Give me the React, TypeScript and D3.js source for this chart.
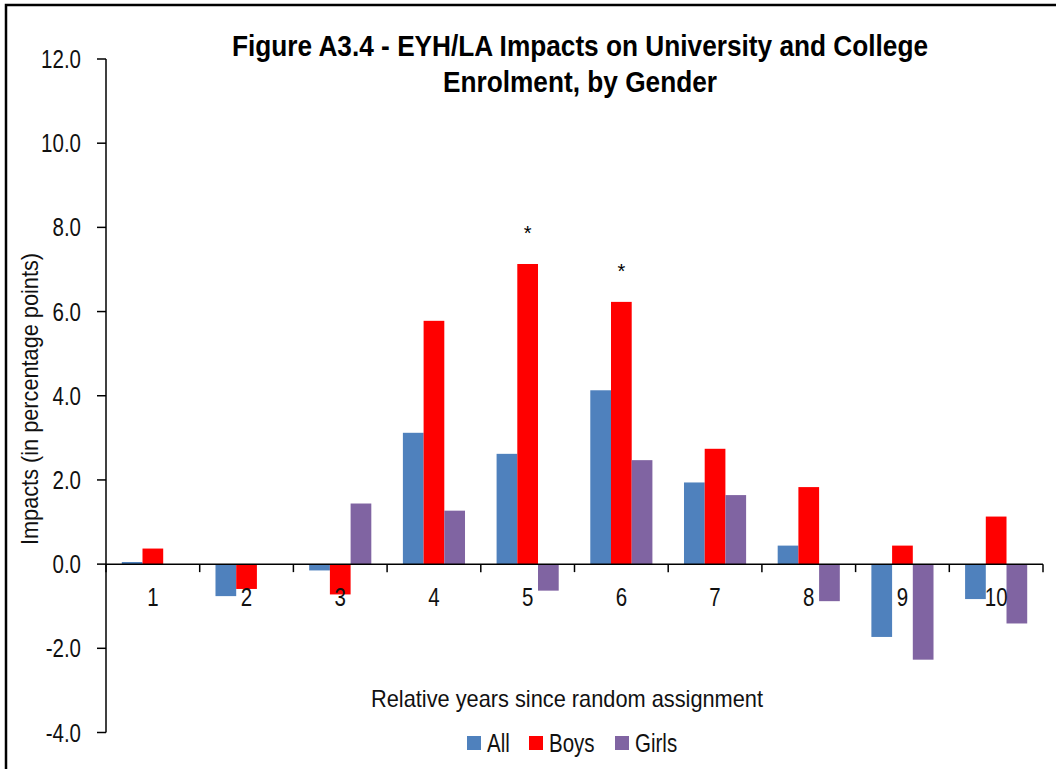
import React, { useEffect, useRef } from "react";
import * as d3 from "d3";

// Relative years since random assignment
const years = ["1", "2", "3", "4", "5", "6", "7", "8", "9", "10"];
const seriesNames = ["All", "Boys", "Girls"];
const allValues = [0.05, -0.76, -0.15, 3.12, 2.62, 4.13, 1.94, 0.44, -1.73, -0.83];
const boysValues = [0.37, -0.59, -0.72, 5.78, 7.13, 6.23, 2.74, 1.83, 0.44, 1.13];
const girlsValues = [0, 0, 1.44, 1.27, -0.63, 2.47, 1.64, -0.88, -2.27, -1.41];
const significant = [
  { year: "5", series: "Boys" },
  { year: "6", series: "Boys" },
];
const yTicks = [-4, -2, 0, 2, 4, 6, 8, 10, 12];
const colors = ["#4F81BD", "#FF0000", "#8064A2"];

const FONT = "'Liberation Sans Narrow', 'Arial Narrow', 'Liberation Sans', Arial, sans-serif";
const NARROW = 0.82; // no narrow font installed, squeeze the regular one

const App: React.FC = () => {
  const svgRef = useRef<SVGSVGElement | null>(null);

  useEffect(() => {
    if (!svgRef.current) return;
    document.body.style.margin = "0";
    const svg = d3.select(svgRef.current);
    svg.selectAll("*").remove();

    const width = 1056;
    const height = 769;
    const left = 106;
    const right = 1043;

    const seriesValues = [allValues, boysValues, girlsValues];

    const x = d3.scaleBand<string>().domain(years).range([left, right]).paddingInner(0.337).paddingOuter(0.1685);
    const xOuter = d3.scaleBand<string>().domain(years).range([left, right]).padding(0);
    const x1 = d3.scaleBand<string>().domain(seriesNames).range([0, x.bandwidth()]).padding(0);
    const y = d3.scaleLinear().domain([-4, 12]).range([732.5, 59]);

    const fmt = (d: number) => d3.format(".1f")(d).replace("−", "-");
    const squeeze = (px: number, py: number) => `translate(${px},${py}) scale(${NARROW},1)`;

    svg.attr("width", width).attr("height", height).style("font-family", FONT);

    // outer frame (chart border, cut at page edge)
    svg.append("path")
      .attr("d", `M6,${height + 5} V5 H${width + 5}`)
      .attr("fill", "none")
      .attr("stroke", "#000")
      .attr("stroke-width", 2.5);

    // title
    svg.append("text")
      .attr("x", 580).attr("y", 56)
      .attr("text-anchor", "middle")
      .attr("font-weight", "bold")
      .attr("font-size", 29)
      .attr("textLength", 696)
      .attr("lengthAdjust", "spacingAndGlyphs")
      .text("Figure A3.4 - EYH/LA Impacts on University and College");
    svg.append("text")
      .attr("x", 580).attr("y", 92)
      .attr("text-anchor", "middle")
      .attr("font-weight", "bold")
      .attr("font-size", 29)
      .attr("textLength", 274)
      .attr("lengthAdjust", "spacingAndGlyphs")
      .text("Enrolment, by Gender");

    // bars
    const groups = svg.append("g")
      .selectAll("g")
      .data(years)
      .join("g")
      .attr("transform", (d) => `translate(${x(d)},0)`);

    groups.selectAll("rect")
      .data((d, i) => seriesNames.map((s, j) => ({ s, j, v: seriesValues[j][i] })))
      .join("rect")
      .attr("x", (d) => x1(d.s) as number)
      .attr("width", x1.bandwidth())
      .attr("y", (d) => y(Math.max(0, d.v)))
      .attr("height", (d) => Math.abs(y(d.v) - y(0)))
      .attr("fill", (d) => colors[d.j]);

    // significance stars
    svg.append("g")
      .selectAll("text")
      .data(significant)
      .join("text")
      .attr("x", (d) => (x(d.year) as number) + (x1(d.series) as number) + x1.bandwidth() / 2)
      .attr("y", (d) => y(boysValues[years.indexOf(d.year)]) - 24)
      .attr("text-anchor", "middle")
      .attr("font-size", 20)
      .text("*");

    // y axis
    const yAxis = svg.append("g");
    yAxis.append("line")
      .attr("x1", left).attr("x2", left)
      .attr("y1", y(12)).attr("y2", y(-4))
      .attr("stroke", "#000").attr("stroke-width", 1.5);
    yAxis.selectAll("line.tick")
      .data(yTicks)
      .join("line")
      .attr("class", "tick")
      .attr("x1", left - 9).attr("x2", left)
      .attr("y1", (d) => y(d)).attr("y2", (d) => y(d))
      .attr("stroke", "#000").attr("stroke-width", 1.5);
    yAxis.selectAll("text")
      .data(yTicks)
      .join("text")
      .attr("transform", (d) => squeeze(81, y(d) + 9))
      .attr("text-anchor", "end")
      .attr("font-size", 25)
      .attr("fill", "#111")
      .text((d) => fmt(d));

    // x axis at zero
    const xAxis = svg.append("g");
    xAxis.append("line")
      .attr("x1", left).attr("x2", right)
      .attr("y1", y(0)).attr("y2", y(0))
      .attr("stroke", "#000").attr("stroke-width", 1.5);
    xAxis.selectAll("line.tick")
      .data(years.map((d) => (xOuter(d) as number) + xOuter.bandwidth()).concat([left]))
      .join("line")
      .attr("class", "tick")
      .attr("x1", (d) => d).attr("x2", (d) => d)
      .attr("y1", y(0)).attr("y2", y(0) + 8)
      .attr("stroke", "#000").attr("stroke-width", 1.5);
    xAxis.selectAll("text")
      .data(years)
      .join("text")
      .attr("transform", (d) => squeeze((xOuter(d) as number) + xOuter.bandwidth() / 2, 606))
      .attr("text-anchor", "middle")
      .attr("font-size", 25)
      .attr("fill", "#111")
      .text((d) => d);

    // axis titles
    svg.append("text")
      .attr("x", 567)
      .attr("y", 707)
      .attr("text-anchor", "middle")
      .attr("font-size", 24)
      .attr("textLength", 392)
      .attr("lengthAdjust", "spacingAndGlyphs")
      .attr("fill", "#111")
      .text("Relative years since random assignment");
    svg.append("text")
      .attr("transform", "translate(38,399) rotate(-90)")
      .attr("text-anchor", "middle")
      .attr("font-size", 24)
      .attr("textLength", 292)
      .attr("lengthAdjust", "spacingAndGlyphs")
      .attr("fill", "#111")
      .text("Impacts (in percentage points)");

    // legend
    const legendX = [467, 529, 615];
    const legend = svg.append("g")
      .selectAll("g")
      .data(seriesNames)
      .join("g")
      .attr("transform", (d, i) => `translate(${legendX[i]},736)`);
    legend.append("rect")
      .attr("width", 14).attr("height", 14)
      .attr("fill", (d, i) => colors[i]);
    legend.append("text")
      .attr("transform", squeeze(20, 15.5))
      .attr("font-size", 25)
      .attr("fill", "#111")
      .text((d) => d);
  }, []);

  return (
    <div style={{ position: "absolute", left: 0, top: 0 }}>
      <svg ref={svgRef}></svg>
    </div>
  );
};

export default App;
